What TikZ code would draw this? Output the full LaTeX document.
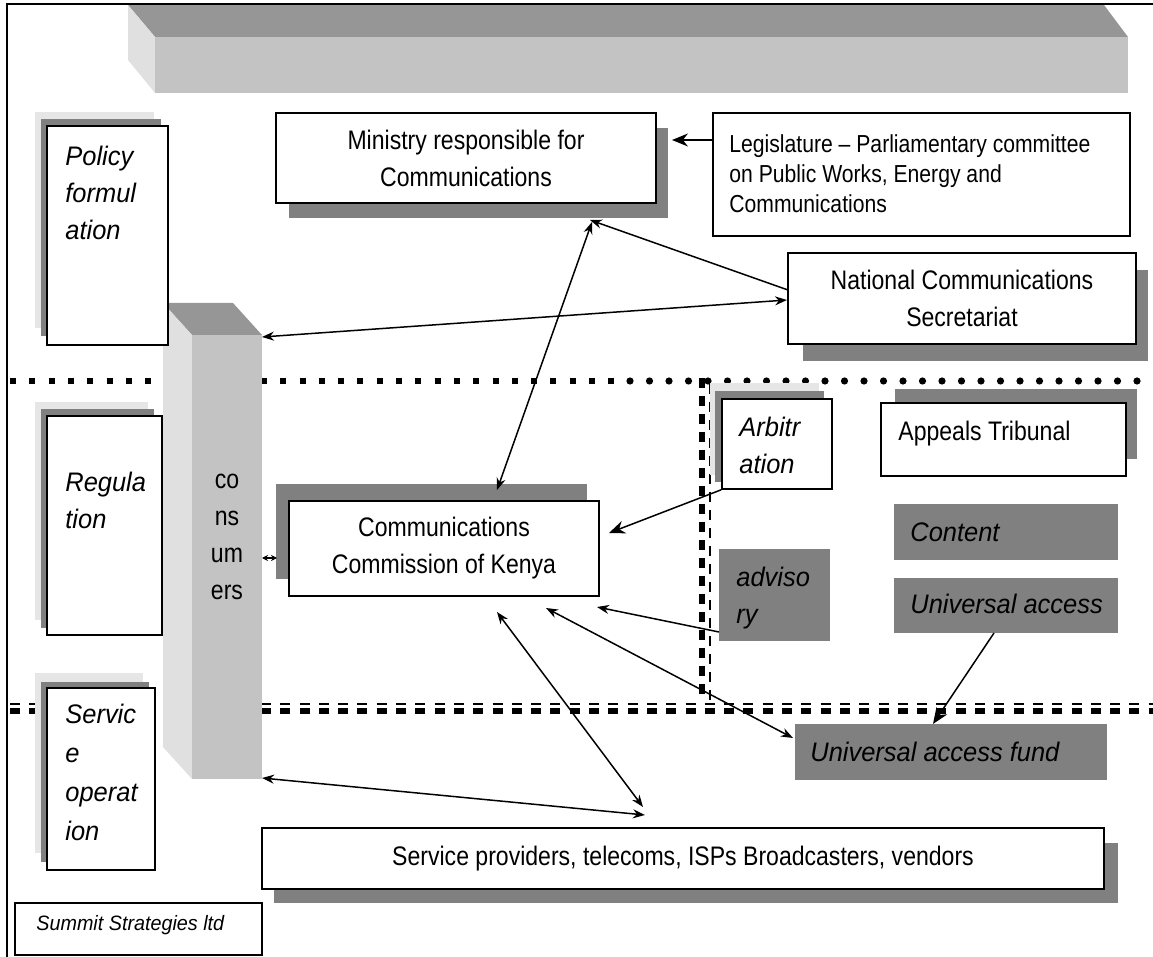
\documentclass[tikz,border=0pt]{standalone}
\usepackage{fontspec}
\setmainfont{Liberation Sans}[FakeStretch=0.86]
\newfontfamily\itf{Liberation Sans}[FakeStretch=0.95]
\usetikzlibrary{arrows.meta,calc}
\definecolor{dsh}{HTML}{808080}
\definecolor{lsh}{HTML}{E6E6E6}
\definecolor{topf}{HTML}{969696}
\definecolor{frontf}{HTML}{C3C3C3}
\definecolor{sidef}{HTML}{E0E0E0}
\begin{document}
\begin{tikzpicture}[x=0.5pt,y=-0.5pt,
  wbox/.style={draw=black, line width=0.8pt, fill=white, inner sep=0pt, align=center,
    font=\fontsize{13.4pt}{18.5pt}\selectfont},
  gbox/.style={fill=dsh, inner sep=0pt},
  itxt/.style={font=\itf\itshape\fontsize{13.4pt}{18.5pt}\selectfont, inner sep=0pt, align=left, anchor=north west},
  utxt/.style={font=\fontsize{13.4pt}{18.5pt}\selectfont, inner sep=0pt, align=left, anchor=north west},
  arr/.style={line width=0.75pt, -{Stealth[length=6pt,width=4.5pt]}},
  darr/.style={line width=0.75pt, {Stealth[length=6pt,width=4.5pt]}-{Stealth[length=6pt,width=4.5pt]}},
  bigarr/.style={line width=0.75pt, -{Stealth[length=8pt,width=6.5pt]}},
  sqdot/.style={line width=3pt, dash pattern=on 3pt off 6.65pt},
  rddot/.style={line width=3.6pt, line cap=round, dash pattern=on 0pt off 9.75pt},
  dashthin/.style={line width=1pt, dash pattern=on 5pt off 4.65pt},
  dashthick/.style={line width=2.6pt, dash pattern=on 5pt off 4.65pt},
  vdashthick/.style={line width=3.2pt, dash pattern=on 5pt off 4pt},
  vdashthin/.style={line width=1.2pt, dash pattern=on 5pt off 4pt}]
\useasboundingbox (0,0) rectangle (1153,957);
% top bar
\fill[topf] (128,5) -- (1104,5) -- (1128,37) -- (155,37) -- cycle;
\fill[sidef] (128,5) -- (155,37) -- (155,93) -- (128,60) -- cycle;
\fill[frontf] (155,37) rectangle (1128,93);
% separator lines
\draw[sqdot] (10,381) -- (620,381);
\draw[rddot] (630,381) -- (1153,381);
\draw[dashthin] (10,704) -- (1153,704);
\draw[dashthick] (10,711) -- (1153,711);
\draw[vdashthick] (702,378) -- (702,700);
\draw[vdashthin] (710,384) -- (710,700);
% consumers column
\fill[topf] (163,303) -- (233,303) -- (262,335) -- (192,335) -- cycle;
\fill[sidef] (163,303) -- (192,335) -- (192,779) -- (163,747) -- cycle;
\node[fill=frontf, minimum width=35pt, minimum height=222pt, inner sep=0pt] (cons) at (227,557) {};
\node[font=\fontsize{13.4pt}{18.5pt}\selectfont, align=center, inner sep=0pt] (consT) at (227,537) {co\\ns\\um\\ers};
% policy
\fill[lsh] (35,112) rectangle (154,328);
\fill[dsh] (41,119) rectangle (161,336);
\node[wbox, minimum width=60.5pt, minimum height=109.5pt] (pol) at (107.5,235.5) {};
\node[itxt] (polT) at (65,146) {Policy\\formul\\ation};
% regulation
\fill[lsh] (35,402) rectangle (148,620);
\fill[dsh] (41,409) rectangle (154,628);
\node[wbox, minimum width=57.5pt, minimum height=109.5pt] (reg) at (104.5,525.5) {};
\node[itxt] (regT) at (65,472) {Regula\\tion};
% service operation
\fill[lsh] (35,673) rectangle (143,853);
\fill[dsh] (41,682) rectangle (149,862);
\node[wbox, minimum width=54pt, minimum height=91pt] (svc) at (101,779) {};
\node[itxt, font=\itf\itshape\fontsize{13.4pt}{19.5pt}\selectfont] (svcT) at (65,704) {Servic\\e\\operat\\ion};
% summit
\node[wbox, line width=0.6pt, minimum width=123.5pt, minimum height=26pt] (sum) at (138.5,929) {};
\node[itxt, font=\itf\itshape\fontsize{10.4pt}{12pt}\selectfont] (sumT) at (36,915) {Summit Strategies ltd};
% ministry
\fill[dsh] (289,128) rectangle (668,218);
\node[wbox, minimum width=190pt, minimum height=45pt] (min) at (466,158) {Ministry responsible for\\Communications};
% legislature
\node[wbox, minimum width=208.5pt, minimum height=61.5pt] (leg) at (921.5,174.5) {};
\node[utxt, font=\fontsize{12.3pt}{15pt}\selectfont] (legT) at (729,134) {Legislature -- Parliamentary committee\\on Public Works, Energy and\\Communications};
% NCS
\fill[dsh] (803,270) rectangle (1148,361);
\node[wbox, minimum width=174pt, minimum height=45.5pt] (ncs) at (962,298.5) {National Communications\\Secretariat};
% CCK
\fill[dsh] (276,484) rectangle (587,579);
\node[wbox, minimum width=155pt, minimum height=47.5pt] (cck) at (444,548.5) {Communications\\Commission of Kenya};
% arbitration
\fill[lsh] (710,383) rectangle (819,475);
\fill[dsh] (715,391) rectangle (824,482);
\node[wbox, minimum width=55pt, minimum height=45pt] (arb) at (777,444) {};
\node[itxt] (arbT) at (739,417) {Arbitr\\ation};
% appeals
\fill[dsh] (895,389) rectangle (1137,459);
\node[wbox, minimum width=122.5pt, minimum height=36.5pt] (app) at (1003.5,439.5) {};
\node[utxt] (appT) at (898,421) {Appeals Tribunal};
% grey boxes
\node[gbox, minimum width=112pt, minimum height=28pt] (con) at (1006,532) {};
\node[itxt] (conT) at (910,522) {Content};
\node[gbox, minimum width=112pt, minimum height=27.5pt] (ua) at (1006,605.5) {};
\node[itxt] (uaT) at (910,594) {Universal access};
\node[gbox, minimum width=55.5pt, minimum height=46pt] (adv) at (774.5,595) {};
\node[itxt] (advT) at (736,567) {adviso\\ry};
\node[gbox, minimum width=156pt, minimum height=28pt] (uaf) at (951,752) {};
\node[itxt] (uafT) at (810,742) {Universal access fund};
% service providers
\fill[dsh] (274,843) rectangle (1118,903);
\node[wbox, minimum width=421pt, minimum height=30.5pt] (sp) at (683,858.5) {Service providers, telecoms, ISPs Broadcasters, vendors};
% connector end points
\coordinate (legA) at (713,140);
\coordinate (minA) at (672,140);
\coordinate (ncsA) at (788,290);
\coordinate (minB) at (590,220);
\coordinate (minC) at (592,222);
\coordinate (cckA) at (497,490);
\coordinate (ncsB) at (787,300);
\coordinate (consA) at (262,337);
\coordinate (cckB) at (609,533);
\coordinate (advA) at (719,632);
\coordinate (cckC) at (597,607);
\coordinate (cckD) at (546,608);
\coordinate (uafA) at (793,738);
\coordinate (cckE) at (497,612);
\coordinate (spA) at (643,807);
\coordinate (consB) at (262,778);
\coordinate (spB) at (645,815);
\coordinate (uaA) at (994,633);
\coordinate (uafB) at (933,724);
\coordinate (consC) at (262,558);
\coordinate (cckF) at (277,558);
% connectors
\draw[bigarr] (legA) -- (minA);
\draw[arr] (ncsA) -- (minB);
\draw[darr] (minC) -- (cckA);
\draw[darr] (ncsB) -- (consA);
\draw[bigarr] (arb.south west) -- (cckB);
\draw[arr] (advA) -- (cckC);
\draw[darr] (cckD) -- (uafA);
\draw[darr] (cckE) -- (spA);
\draw[darr] (consB) -- (spB);
\draw[bigarr] (uaA) -- (uafB);
\draw[line width=0.6pt, {Stealth[length=3pt,width=3pt]}-{Stealth[length=3pt,width=3pt]}] (consC) -- (cckF);
% frame
\draw[line width=1pt] (7,957) -- (7,4) -- (1153,4);
\end{tikzpicture}
\end{document}
